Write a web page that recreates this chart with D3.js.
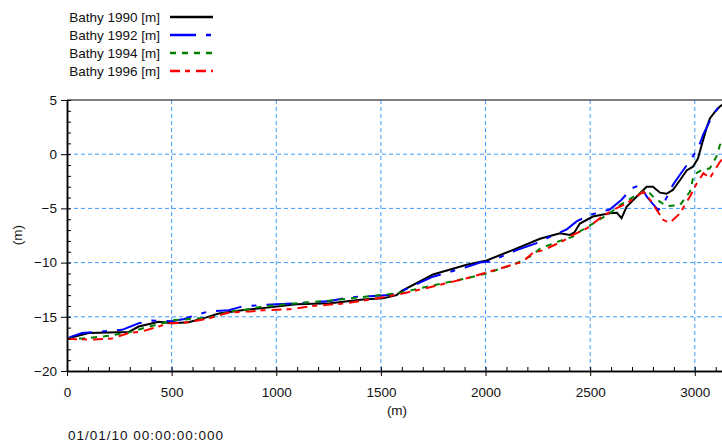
<!DOCTYPE html>
<html><head><meta charset="utf-8">
<script src="https://cdn.jsdelivr.net/npm/d3@7"></script>
<style>
html,body{margin:0;padding:0;background:#fff;}
svg{display:block;font-family:"Liberation Sans",Arial,sans-serif;}
</style></head>
<body>
<svg id="chart" width="722" height="444"></svg>
<script>
// ---- data ----
const seriesNames = ["Bathy 1990 [m]", "Bathy 1992 [m]", "Bathy 1994 [m]", "Bathy 1996 [m]"];
const xTickValues = [0, 500, 1000, 1500, 2000, 2500, 3000];
const yTickValues = [5, 0, -5, -10, -15, -20];
const timeLabel = "01/01/10 00:00:00:000";

const bathy1990 = [[0,-17.0],[24,-16.9],[104,-16.5],[295,-16.4],[343,-15.9],[438,-15.45],[502,-15.6],[581,-15.5],[659,-15.1],[725,-14.7],[836,-14.4],[936,-14.2],[1097,-13.85],[1257,-13.75],[1414,-13.4],[1510,-13.3],[1575,-13.0],[1600,-12.6],[1749,-11.1],[1910,-10.2],[2005,-9.8],[2149,-8.7],[2260,-7.8],[2356,-7.3],[2403,-7.45],[2425,-7.2],[2451,-6.4],[2513,-5.75],[2594,-5.45],[2628,-5.4],[2650,-5.9],[2674,-4.85],[2738,-3.6],[2770,-3.0],[2800,-3.0],[2834,-3.55],[2865,-3.65],[2895,-3.3],[2929,-2.4],[2961,-1.5],[2991,-1.15],[3015,-0.4],[3033,0.85],[3056,2.4],[3072,3.3],[3096,3.9],[3120,4.4],[3135,4.6]];
const bathy1992 = [[0,-17.0],[24,-16.8],[72,-16.5],[134,-16.4],[263,-16.2],[343,-15.6],[406,-15.35],[502,-15.4],[560,-15.2],[613,-14.85],[677,-14.5],[773,-14.4],[836,-14.05],[936,-13.9],[1097,-13.75],[1257,-13.55],[1352,-13.2],[1448,-13.1],[1543,-13.0],[1591,-12.7],[1749,-11.3],[1910,-10.4],[1973,-10.0],[2021,-9.9],[2149,-8.85],[2244,-8.2],[2292,-7.75],[2387,-6.95],[2435,-6.2],[2499,-5.6],[2594,-5.1],[2650,-4.2],[2698,-3.15],[2738,-2.85],[2770,-3.9],[2800,-4.6],[2825,-5.15],[2845,-4.8],[2865,-4.0],[2895,-2.85],[2929,-1.9],[2977,-0.6],[3015,0.5],[3040,1.8],[3070,3.0],[3100,4.0],[3125,4.6],[3135,4.8]];
const bathy1994 = [[0,-17.0],[72,-17.0],[181,-16.8],[295,-16.45],[373,-16.0],[516,-15.3],[600,-15.2],[707,-15.0],[773,-14.5],[836,-14.4],[936,-14.05],[1097,-13.75],[1257,-13.5],[1448,-13.1],[1543,-12.9],[1600,-12.75],[1749,-12.1],[1910,-11.45],[2005,-11.0],[2149,-10.05],[2226,-9.3],[2260,-8.7],[2356,-8.0],[2418,-7.6],[2435,-7.3],[2513,-6.4],[2594,-5.45],[2642,-4.7],[2722,-3.75],[2770,-3.3],[2805,-4.0],[2865,-4.8],[2929,-4.7],[2977,-3.45],[2995,-1.9],[3033,-1.45],[3072,-1.3],[3104,-0.2],[3120,0.85],[3135,1.2]];
const bathy1996 = [[0,-17.05],[24,-17.05],[120,-17.1],[215,-17.0],[295,-16.5],[358,-16.35],[438,-15.9],[486,-15.6],[560,-15.55],[677,-15.15],[756,-14.7],[779,-14.6],[875,-14.5],[936,-14.4],[1066,-14.3],[1175,-14.0],[1336,-13.75],[1448,-13.4],[1510,-13.2],[1605,-12.85],[1749,-12.2],[1910,-11.45],[2069,-10.55],[2180,-9.9],[2226,-9.1],[2276,-8.85],[2371,-8.0],[2418,-7.45],[2483,-6.85],[2547,-5.9],[2608,-5.15],[2674,-4.55],[2722,-3.9],[2754,-3.45],[2786,-4.2],[2818,-5.15],[2849,-6.05],[2881,-6.35],[2929,-5.45],[2977,-3.9],[3009,-2.7],[3041,-1.75],[3072,-2.2],[3096,-1.45],[3120,-0.7],[3135,-0.4]];

const seriesData = [bathy1990, bathy1992, bathy1994, bathy1996];
const seriesColors = ["#000000", "#0000ff", "#008000", "#ff0000"];
const seriesDash = [null, "26,10,5,10", "6,6", "10,5,5,6"];

// ---- layout ----
const FS = 13.5;
const svg = d3.select("#chart");
const L = 67, R = 722, T = 100, B = 371;
const x = d3.scaleLinear().domain([0, 3130]).range([L, R]);
const y = d3.scaleLinear().domain([-20, 5]).range([B, T]);

svg.append("defs").append("clipPath").attr("id","clip")
  .append("rect").attr("x", L).attr("y", T).attr("width", R - L).attr("height", B - T);

// grid
const gridColor = "#3d9cff";
svg.append("g").selectAll("line").data(xTickValues.filter(v => v > 0)).join("line")
  .attr("x1", d => x(d)).attr("x2", d => x(d)).attr("y1", T).attr("y2", B)
  .attr("stroke", gridColor).attr("stroke-width", 1).attr("stroke-dasharray", "4,3");
svg.append("g").selectAll("line").data(yTickValues.filter(v => v > -20 && v < 5)).join("line")
  .attr("x1", L).attr("x2", R).attr("y1", d => y(d)).attr("y2", d => y(d))
  .attr("stroke", gridColor).attr("stroke-width", 1).attr("stroke-dasharray", "4,3");

// series
const line = d3.line().x(d => x(d[0])).y(d => y(d[1]));
const gS = svg.append("g").attr("clip-path", "url(#clip)");
seriesData.forEach((s, i) => {
  gS.append("path").datum(s).attr("d", line).attr("fill", "none")
    .attr("stroke", seriesColors[i]).attr("stroke-width", 2)
    .attr("stroke-dasharray", seriesDash[i]);
});

// top border
svg.append("line").attr("x1", L).attr("x2", R).attr("y1", T).attr("y2", T)
  .attr("stroke", "#555").attr("stroke-width", 1.5);

// axes
const yMinor = d3.range(-20, 6, 1);
const xMinor = d3.range(0, 3130, 100);
svg.append("g").attr("transform", `translate(${L},0)`)
  .call(d3.axisLeft(y).tickValues(yTickValues).tickSize(6).tickSizeOuter(0).tickPadding(4).tickFormat(d3.format("d")));
svg.append("g").attr("transform", `translate(${L},0)`)
  .call(d3.axisLeft(y).tickValues(yMinor).tickSize(-4).tickSizeOuter(0).tickFormat(""));
svg.append("g").attr("transform", `translate(0,${B})`)
  .call(d3.axisBottom(x).tickValues(xTickValues).tickSize(5).tickSizeOuter(0).tickPadding(11).tickFormat(d3.format("d")));
svg.append("g").attr("transform", `translate(0,${B})`)
  .call(d3.axisBottom(x).tickValues(xMinor).tickSize(-4).tickSizeOuter(0).tickFormat(""));
svg.selectAll(".domain").attr("stroke", "#000").attr("stroke-width", 1.5);
svg.selectAll(".tick line").attr("stroke", "#000");
svg.selectAll(".tick text").attr("font-size", FS).attr("fill", "#111")
  .attr("font-family", "'Liberation Sans',Arial,sans-serif");

// titles
svg.append("text").attr("transform", `translate(22,235) rotate(-90)`).attr("text-anchor", "middle")
  .attr("font-size", FS).attr("fill", "#111").text("(m)");
svg.append("text").attr("x", 397).attr("y", 415).attr("text-anchor", "middle")
  .attr("font-size", FS).attr("fill", "#111").text("(m)");
svg.append("text").attr("x", 68).attr("y", 440).attr("letter-spacing", 1)
  .attr("font-size", FS).attr("fill", "#111").text(timeLabel);

// legend
const lg = svg.append("g");
seriesNames.forEach((n, i) => {
  const yy = 17 + i * 18;
  lg.append("text").attr("x", 160).attr("y", yy + 5).attr("text-anchor", "end")
    .attr("font-size", FS).attr("fill", "#111").text(n);
  lg.append("line").attr("x1", 170).attr("x2", 213).attr("y1", yy).attr("y2", yy)
    .attr("stroke", seriesColors[i]).attr("stroke-width", 2.5)
    .attr("stroke-dasharray", seriesDash[i]);
});
</script>
</body></html>
